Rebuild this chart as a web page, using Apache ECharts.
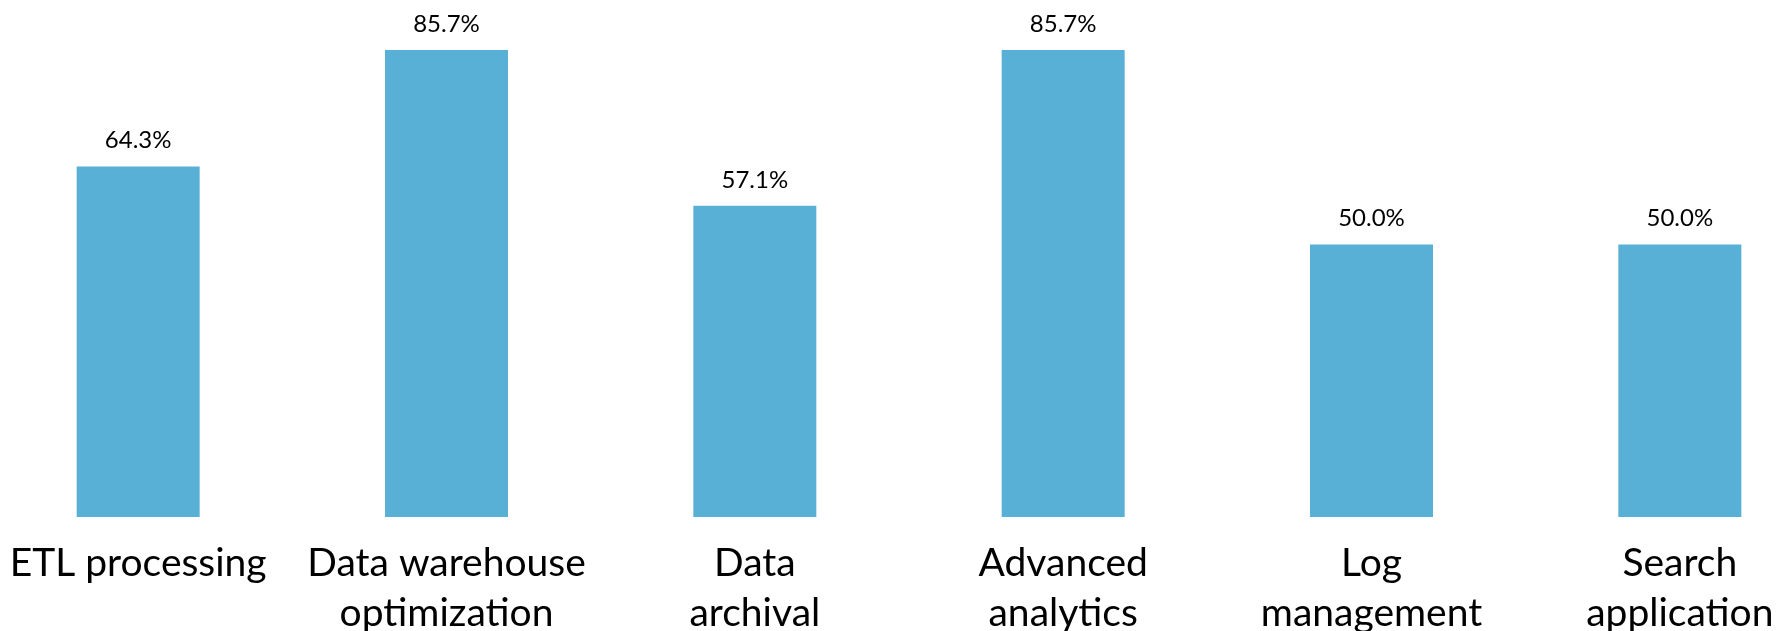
<!DOCTYPE html>
<html>
<head>
<meta charset="utf-8">
<script src="https://cdn.jsdelivr.net/npm/echarts@6/dist/echarts.min.js"></script>
<style>
html,body{margin:0;padding:0;background:#fff;}
#chart{width:1788px;height:631px;}
</style>
</head>
<body>
<div id="chart"></div>
<script>
const categories = ["ETL processing", "Data warehouse\noptimization", "Data\narchival", "Advanced\nanalytics", "Log\nmanagement", "Search\napplication"];
const values = [64.3, 85.7, 57.1, 85.7, 50.0, 50.0];

const chart = echarts.init(document.getElementById('chart'), null, {renderer: 'canvas'});
chart.setOption({
  animation: false,
  backgroundColor: '#ffffff',
  grid: {left: -16, top: -28, width: 1850, height: 545, containLabel: false, outerBoundsMode: 'none'},
  xAxis: {
    type: 'category',
    data: categories,
    axisLine: {show: false},
    axisTick: {show: false},
    axisLabel: {
      interval: 0,
      margin: 21,
      fontFamily: 'Lato',
      fontSize: 39,
      lineHeight: 50,
      color: '#000000',
      hideOverlap: false
    }
  },
  yAxis: {
    type: 'value',
    min: 0,
    max: 100,
    show: false,
    splitLine: {show: false}
  },
  series: [{
    type: 'bar',
    data: values,
    barWidth: 123,
    itemStyle: {color: '#59B0D6'},
    label: {
      show: true,
      position: 'top',
      distance: 14,
      fontFamily: 'Lato',
      fontSize: 24,
      color: '#000000',
      formatter: p => p.value.toFixed(1) + '%'
    }
  }]
});
</script>
</body>
</html>
